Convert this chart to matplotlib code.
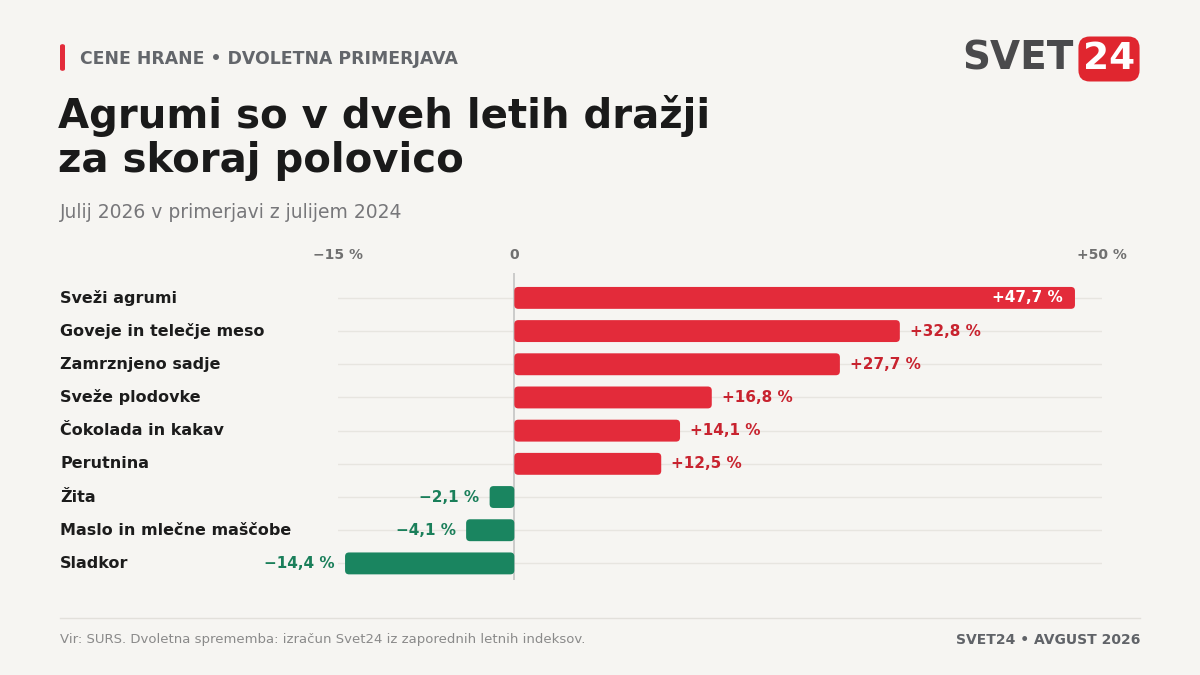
"""
Cene hrane - dvoletna primerjava (Svet24).
"""

import matplotlib
matplotlib.use("Agg")
from matplotlib import pyplot as plt
from matplotlib import transforms
from matplotlib.patches import FancyBboxPatch

plt.rcParams["font.family"] = ["DejaVu Sans"]

categories = [
    "Sveži agrumi",
    "Goveje in telečje meso",
    "Zamrznjeno sadje",
    "Sveže plodovke",
    "Čokolada in kakav",
    "Perutnina",
    "Žita",
    "Maslo in mlečne maščobe",
    "Sladkor",
]
changes = [47.7, 32.8, 27.7, 16.8, 14.1, 12.5, -2.1, -4.1, -14.4]
tick_values = [-15, 0, 50]
tick_labels = ["\u221215 %", "0", "+50 %"]

BG = "#f6f5f2"
RED = "#e32b3a"
RED_TXT = "#c8232f"
GREEN = "#1a8560"
GREEN_TXT = "#1a7f5a"
W, H = 1200, 675


def fx(px):
    return px / W


def fy(py):
    return 1 - py / H


def fmt(v):
    s = f"{abs(v):.1f}".replace(".", ",")
    return ("+" if v >= 0 else "\u2212") + s + " %"


fig = plt.figure(figsize=(12, 6.75), dpi=100, facecolor=BG)

# chart area
ax = fig.add_axes([fx(338), fy(580), fx(1102) - fx(338), (580 - 273) / H])
ax.set_facecolor(BG)
ax.set_xlim(-15, 50)
ax.set_ylim(8.5, -0.75)
for s in ax.spines.values():
    s.set_visible(False)
ax.set_xticks([])
ax.set_yticks([])

ypos = list(range(len(categories)))
for y in ypos:
    ax.axhline(y, color="#e7e5e0", lw=1, zorder=0)
ax.axvline(0, color="#c4c4c4", lw=1.2, zorder=1)

bars = ax.barh(ypos, changes, height=0.66, color="none")

# rounded corners (keep radius round in pixels)
x_per_px = 65 / 764
y_per_px = 9.25 / 307
for b, v in zip(bars, changes):
    b.set_visible(False)
    x0, w = b.get_x(), b.get_width()
    if w < 0:
        x0, w = x0 + w, -w
    p = FancyBboxPatch((x0, b.get_y()), w, b.get_height(),
                       boxstyle=f"round,pad=0,rounding_size={4 * x_per_px}",
                       mutation_aspect=y_per_px / x_per_px,
                       fc=RED if v >= 0 else GREEN, ec="none", zorder=2)
    ax.add_patch(p)

off = 10 * x_per_px
for y, v in zip(ypos, changes):
    if v > 40:
        ax.text(v - 12 * x_per_px, y, fmt(v), ha="right", va="center",
                color="white", fontsize=11, fontweight="bold", zorder=3)
    elif v >= 0:
        ax.text(v + off, y, fmt(v), ha="left", va="center",
                color=RED_TXT, fontsize=11, fontweight="bold", zorder=3)
    else:
        ax.text(v - off, y, fmt(v), ha="right", va="center",
                color=GREEN_TXT, fontsize=11, fontweight="bold", zorder=3)

for t, lab in zip(tick_values, tick_labels):
    ax.text(t, -1.30, lab, ha="center", va="center", color="#707070",
            fontsize=10, fontweight="bold", clip_on=False)

# category labels
lab_tr = transforms.blended_transform_factory(fig.transFigure, ax.transData)
for y, c in zip(ypos, categories):
    ax.text(fx(60), y, c, transform=lab_tr, ha="left", va="center",
            fontsize=11.5, fontweight="bold", color="#1c1c1c")

# header
fig.patches.append(FancyBboxPatch((fx(60), fy(71)), fx(5), (71 - 44) / H,
                                  boxstyle="round,pad=0,rounding_size=0.003",
                                  transform=fig.transFigure, fc=RED, ec="none"))
fig.text(fx(80), fy(59), "CENE HRANE \u2022 DVOLETNA PRIMERJAVA", ha="left", va="center",
         fontsize=12.4, fontweight="bold", color="#63666b")
fig.text(fx(58), fy(172), "Agrumi so v dveh letih dražji\nza skoraj polovico",
         ha="left", va="baseline", fontsize=29, fontweight="bold", color="#1a1a1a",
         linespacing=1.12)
fig.text(fx(60), fy(212), "Julij 2026 v primerjavi z julijem 2024", ha="left", va="center",
         fontsize=13.5, color="#77777a")

# logo
fig.text(fx(1074), fy(58), "SVET", ha="right", va="center", fontsize=28,
         fontweight="heavy", color="#4a4a4c", stretch="expanded")
fig.text(fx(1109), fy(59), "24", ha="center", va="center", fontsize=27,
         fontweight="heavy", color="white",
         bbox=dict(boxstyle="round,pad=0.12,rounding_size=0.3", fc="#e0262f", ec="none"))

# footer
fig.add_artist(plt.Line2D([fx(60), fx(1140)], [fy(618), fy(618)], color="#e2e0db", lw=1))
fig.text(fx(60), fy(640), "Vir: SURS. Dvoletna sprememba: izračun Svet24 iz zaporednih letnih indeksov.",
         ha="left", va="center", fontsize=9.5, color="#8a8a8a")
fig.text(fx(1140), fy(640), "SVET24 \u2022 AVGUST 2026", ha="right", va="center",
         fontsize=10, fontweight="bold", color="#606368")

fig.savefig("out.png", dpi=100, facecolor=BG)
